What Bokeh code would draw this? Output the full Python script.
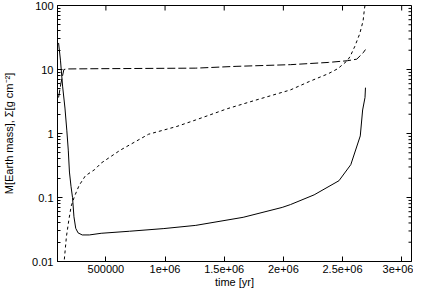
import math
from bokeh.plotting import figure
from bokeh.models import Range1d, FixedTicker, CustomJSTickFormatter
from bokeh.embed import file_html
from bokeh.resources import INLINE

# ---- data ----
# solid line: surface density Sigma [g cm^-2]
t_sigma = [1.0e5, 1.16e5, 1.34e5, 1.54e5, 1.70e5, 1.82e5, 1.92e5, 2.05e5, 2.18e5,
           2.30e5, 2.45e5, 2.65e5, 3.0e5, 3.6e5, 4.6e5, 7.0e5, 9.9e5, 1.26e6,
           1.66e6, 1.99e6, 2.06e6, 2.26e6, 2.47e6, 2.57e6, 2.65e6, 2.67e6, 2.69e6, 2.694e6]
sigma = [26, 14, 5.5, 2.5, 1.1, 0.55, 0.25, 0.15, 0.1,
         0.05, 0.033, 0.028, 0.026, 0.026, 0.0276, 0.0297, 0.0327, 0.0367,
         0.049, 0.07, 0.0775, 0.11, 0.183, 0.326, 0.917, 2.33, 3.65, 5.2]

# short-dashed line: envelope mass [Earth mass]
t_env = [1.42e5, 1.48e5, 1.664e5, 1.88e5, 2.064e5, 2.336e5, 2.736e5, 3.264e5, 4.064e5,
         4.6e5, 6.2e5, 8.6e5, 1.1e6, 1.26e6, 1.526e6, 1.794e6, 2.06e6, 2.22e6,
         2.38e6, 2.46e6, 2.54e6, 2.566e6, 2.604e6, 2.646e6, 2.674e6, 2.686e6, 2.69e6]
m_env = [0.007, 0.0104, 0.0245, 0.046, 0.073, 0.103, 0.154, 0.218, 0.274,
         0.345, 0.547, 0.973, 1.29, 1.63, 2.44, 3.44, 4.8, 6.5,
         8.6, 10.3, 13.7, 16.2, 23, 36.4, 57.7, 91, 100]

# long-dashed line: core mass [Earth mass]
t_core = [1.0e5, 1.2e5, 1.45e5, 1.7e5, 4.6e5, 1.26e6, 1.6e6, 2.06e6, 2.38e6,
          2.54e6, 2.62e6, 2.674e6, 2.694e6]
m_core = [3.65, 6.1, 10, 10.2, 10.3, 10.5, 11.2, 11.9, 12.9,
          13.7, 14.5, 18.2, 20.5]

x_ticks = [500000, 1000000, 1500000, 2000000, 2500000, 3000000]
x_tick_labels = ["500000", "1e+06", "1.5e+06", "2e+06", "2.5e+06", "3e+06"]
y_ticks = [0.01, 0.1, 1, 10, 100]
y_tick_labels = ["0.01", "0.1", "1", "10", "100"]
y_minor = [m * d for d in [0.01, 0.1, 1, 10] for m in range(2, 10)]

x_label = "time [yr]"
y_label = "M[Earth mass], Σ[g cm⁻²]"

X_MIN, X_MAX = 9.1e4, 3.083e6
Y_MIN, Y_MAX = 0.01, 100

FONT = "Liberation Sans"

p = figure(width=413, height=290, output_backend="svg", toolbar_location=None,
           y_axis_type="log",
           x_range=Range1d(X_MIN, X_MAX), y_range=Range1d(Y_MIN, Y_MAX),
           min_border_left=54, min_border_right=2, min_border_top=5, min_border_bottom=0,
           background_fill_color="white", border_fill_color="white")
p.grid.visible = False
p.outline_line_color = "black"
p.outline_line_width = 1

JS = """
const i = tvals.findIndex(v => Math.abs(v - tick) <= 1e-9 * Math.abs(v));
return i >= 0 ? tlabels[i] : "";
"""
xa = p.xaxis[0]
ya = p.yaxis[0]
xa.ticker = FixedTicker(ticks=x_ticks)
xa.formatter = CustomJSTickFormatter(args=dict(tvals=x_ticks, tlabels=x_tick_labels), code=JS)
ya.ticker = FixedTicker(ticks=y_ticks, minor_ticks=y_minor)
ya.formatter = CustomJSTickFormatter(args=dict(tvals=y_ticks, tlabels=y_tick_labels), code=JS)
xa.axis_label = x_label
ya.axis_label = y_label

for ax in (xa, ya):
    ax.major_tick_in = 5
    ax.major_tick_out = 0
    ax.minor_tick_in = 3
    ax.minor_tick_out = 0
    ax.axis_line_color = "black"
    ax.major_tick_line_color = "black"
    ax.minor_tick_line_color = "black"
    ax.major_label_text_font = FONT
    ax.major_label_text_font_size = "11px"
    ax.major_label_text_color = "black"
    ax.axis_label_text_font = FONT
    ax.axis_label_text_font_size = "11px"
    ax.axis_label_text_font_style = "normal"
    ax.axis_label_text_color = "black"
    ax.major_label_standoff = 4
xa.major_label_standoff = 3
xa.axis_label_standoff = 0
ya.axis_label_standoff = 14

# mirrored tick marks on the right and top edges of the frame
p.ray(x=[X_MAX] * len(y_ticks), y=y_ticks, length=5, length_units="screen",
      angle=math.pi, line_color="black", line_width=1)
p.ray(x=[X_MAX] * len(y_minor), y=y_minor, length=3, length_units="screen",
      angle=math.pi, line_color="black", line_width=1)
p.ray(x=x_ticks, y=[Y_MAX] * len(x_ticks), length=5, length_units="screen",
      angle=-math.pi / 2, line_color="black", line_width=1)

p.line(t_sigma, sigma, line_color="black", line_width=1)
p.line(t_env, m_env, line_color="black", line_width=1, line_dash="3 3")
p.line(t_core, m_core, line_color="black", line_width=1, line_dash="8 3")

open("out.html", "w").write(file_html(p, INLINE))
